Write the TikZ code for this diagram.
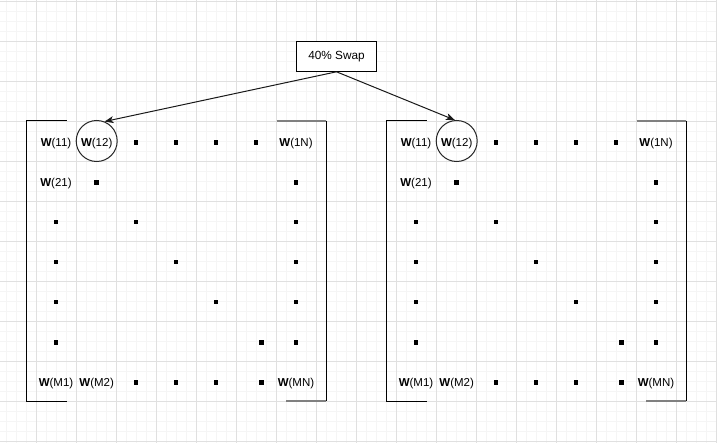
\documentclass[tikz,border=0pt]{standalone}
\usepackage{fontspec}
\setmainfont{Liberation Sans}
\usetikzlibrary{arrows.meta}
\begin{document}
\begin{tikzpicture}[x=1pt,y=-1pt,
  lbl/.style={font=\fontsize{11.5}{13}\selectfont, inner sep=0pt, text=black, text height=8pt, text depth=0pt},
  dotsq/.style={rectangle, fill=black, minimum size=4.5pt, inner sep=0pt},
  ring/.style={circle, draw=black!85, line width=1pt, minimum size=41pt, inner sep=0pt},
  boxs/.style={rectangle, draw=black, line width=1pt, minimum width=80pt, minimum height=30pt, inner sep=0pt, font=\fontsize{11.8}{14}\selectfont},
  bline/.style={draw=black, line width=1pt},
  gline/.style={draw=black!50, line width=1.4pt},
  arr/.style={draw=black!90, line width=1pt, -{Stealth[length=9pt,width=7pt,inset=2.5pt]}},
  minorgrid/.style={draw=black!4, line width=0.8pt},
  majorgrid/.style={draw=black!12, line width=0.8pt}]
\fill[white] (0,0) rectangle (717,443);
\useasboundingbox (0,0) rectangle (717,443);
% background grid
\foreach \gx in {6.3,16.3,...,716.3} \draw[minorgrid] (\gx,0) -- (\gx,443);
\foreach \gy in {11,21,...,441} \draw[minorgrid] (0,\gy) -- (717,\gy);
\foreach \gx in {36.3,76.3,...,716.3} \draw[majorgrid] (\gx,0) -- (\gx,443);
\foreach \gy in {1,41,...,441} \draw[majorgrid] (0,\gy) -- (717,\gy);
% two matrices
\foreach \ox/\s in {0/L,360/R}{
\begin{scope}[xshift=\ox pt]
  \draw[bline] (66.7,121) -- (26.3,121) -- (26.3,401) -- (66.7,401);
  \draw[bline] (326,121) -- (326,401);
  \draw[gline] (276.7,121) -- (326,121);
  \draw[gline] (286,401) -- (326,401);
  \node[ring] (\s-circ) at (96.7,141) {};
  % row 1
  \node[lbl] (\s-11) at (56,142.3) {\textbf{W}(11)};
  \node[lbl] (\s-12) at (96.7,142.3) {\textbf{W}(12)};
  \node[dotsq] (\s-13) at (136,142.3) {};
  \node[dotsq] (\s-14) at (176,142.3) {};
  \node[dotsq] (\s-15) at (216,142.3) {};
  \node[dotsq] (\s-16) at (256,142.3) {};
  \node[lbl] (\s-1N) at (296,142.3) {\textbf{W}(1N)};
  % row 2
  \node[lbl] (\s-21) at (56,182.3) {\textbf{W}(21)};
  \node[dotsq] (\s-22) at (96.7,182.3) {};
  \node[dotsq] (\s-2N) at (296,182.3) {};
  % row 3
  \node[dotsq] (\s-31) at (56,222) {};
  \node[dotsq] (\s-33) at (136,222) {};
  \node[dotsq] (\s-3N) at (296,222) {};
  % row 4
  \node[dotsq] (\s-41) at (56,262) {};
  \node[dotsq] (\s-44) at (176,262) {};
  \node[dotsq] (\s-4N) at (296,262) {};
  % row 5
  \node[dotsq] (\s-51) at (56,302) {};
  \node[dotsq] (\s-55) at (216,302) {};
  \node[dotsq] (\s-5N) at (296,302) {};
  % row 6
  \node[dotsq] (\s-61) at (56,342.5) {};
  \node[dotsq] (\s-66) at (261.3,342.5) {};
  \node[dotsq] (\s-6N) at (296,342.5) {};
  % row 7
  \node[lbl] (\s-M1) at (56,382.3) {\textbf{W}(M1)};
  \node[lbl] (\s-M2) at (96.7,382.3) {\textbf{W}(M2)};
  \node[dotsq] (\s-M3) at (136,382.3) {};
  \node[dotsq] (\s-M4) at (176,382.3) {};
  \node[dotsq] (\s-M5) at (216,382.3) {};
  \node[dotsq] (\s-M6) at (261.3,382.3) {};
  \node[lbl] (\s-MN) at (296,382.3) {\textbf{W}(MN)};
\end{scope}
}
% swap box and arrows
\node[boxs, fill=white] (swap) at (336.5,56.3) {40\% Swap};
\draw[arr] (swap.south) -- (L-circ.68);
\draw[arr] (swap.south) -- (R-circ.95);
\end{tikzpicture}
\end{document}
